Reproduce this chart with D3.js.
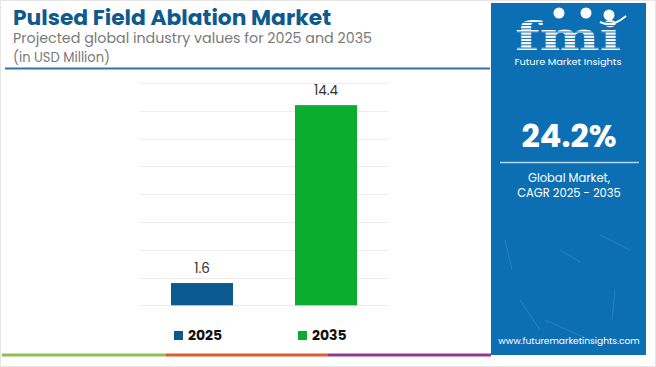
<!DOCTYPE html>
<html>
<head>
<meta charset="utf-8">
<script src="https://cdn.jsdelivr.net/npm/d3@7"></script>
<style>
  html, body { margin: 0; padding: 0; background: #fff; }
  svg { display: block; }
</style>
</head>
<body>
<svg id="chart" width="656" height="367"></svg>
<script>
const categories = ["2025", "2035"];
const values = [1.6, 14.4];
const valueLabels = ["1.6", "14.4"];
const gridTicks = [0, 2, 4, 6, 8, 10, 12, 14, 16];
const barColors = ["#0b5a8f", "#0aad30"];
const titleText = "Pulsed Field Ablation Market";
const subtitleLines = ["Projected global industry values for 2025 and 2035", "(in USD Million)"];
const cagrText = "24.2%";
const cagrLabel = ["Global Market,", "CAGR 2025 - 2035"];
const stripeColors = ["#8cc152", "#e05a2b", "#8e3a93"];

const svg = d3.select("#chart");
const font = "Poppins, 'Open Sans', Roboto, sans-serif";

// outer light border
svg.append("rect").attr("x", 0.5).attr("y", 0.5).attr("width", 655).attr("height", 366)
  .attr("fill", "none").attr("stroke", "#e6e6e6");

// header
svg.append("text").attr("x", 13).attr("y", 25)
  .attr("font-family", font).attr("font-weight", 700).attr("font-size", 20.5)
  .attr("fill", "#0e5a8c").attr("textLength", 318).attr("lengthAdjust", "spacingAndGlyphs")
  .text(titleText);
svg.append("text").attr("x", 13).attr("y", 42.5)
  .attr("font-family", font).attr("font-size", 14).attr("fill", "#7a7a7a")
  .attr("textLength", 359).attr("lengthAdjust", "spacingAndGlyphs")
  .text(subtitleLines[0]);
svg.append("text").attr("x", 13).attr("y", 62)
  .attr("font-family", font).attr("font-size", 14).attr("fill", "#7a7a7a")
  .attr("textLength", 97).attr("lengthAdjust", "spacingAndGlyphs")
  .text(subtitleLines[1]);
svg.append("line").attr("x1", 5).attr("x2", 490).attr("y1", 68.5).attr("y2", 68.5)
  .attr("stroke", "#2f74a8").attr("stroke-width", 2);

// scales
const x = d3.scaleBand().domain(categories).range([140, 388]).paddingInner(0.5).paddingOuter(0.25);
const y = d3.scaleLinear().domain([0, 16]).range([305.3, 82.9]);

// grid
svg.append("g").selectAll("line").data(gridTicks).join("line")
  .attr("x1", 140).attr("x2", 388)
  .attr("y1", d => Math.round(y(d)) + 0.5).attr("y2", d => Math.round(y(d)) + 0.5)
  .attr("stroke", "#ececec").attr("stroke-width", 1);

// bars
svg.append("g").selectAll("rect").data(categories).join("rect")
  .attr("x", d => x(d)).attr("width", x.bandwidth())
  .attr("y", (d, i) => y(values[i])).attr("height", (d, i) => y(0) - y(values[i]))
  .attr("fill", (d, i) => barColors[i]);

// value labels
svg.append("g").selectAll("text").data(categories).join("text")
  .attr("x", d => x(d) + x.bandwidth() / 2)
  .attr("y", (d, i) => y(values[i]) - 10)
  .attr("text-anchor", "middle")
  .attr("font-family", font).attr("font-size", 13.5).attr("fill", "#333")
  .text((d, i) => valueLabels[i]);

// legend
const leg = svg.append("g").selectAll("g").data(categories).join("g")
  .attr("transform", d => `translate(${x(d) + 3},331)`);
leg.append("rect").attr("width", 9).attr("height", 9).attr("fill", (d, i) => barColors[i]);
leg.append("text").attr("x", 14).attr("y", 9)
  .attr("font-family", font).attr("font-weight", 700).attr("font-size", 14).attr("fill", "#111")
  .text(d => d);

// bottom stripe
const stripeX = [2, 166, 328, 491];
svg.append("g").selectAll("rect").data(stripeColors).join("rect")
  .attr("x", (d, i) => stripeX[i]).attr("width", (d, i) => stripeX[i + 1] - stripeX[i])
  .attr("y", 353.5).attr("height", 3).attr("fill", d => d);

// right panel
const panel = svg.append("g");
panel.append("rect").attr("x", 491).attr("y", 3).attr("width", 155).attr("height", 352).attr("fill", "#0d6fb3");

// subtle decorative strokes
const deco = [[505,240,512,270],[560,250,580,262],[600,235,630,250],[520,300,540,330],[615,290,612,320],[545,320,590,340]];
panel.selectAll("line.deco").data(deco).join("line").attr("class", "deco")
  .attr("x1", d => d[0]).attr("y1", d => d[1]).attr("x2", d => d[2]).attr("y2", d => d[3])
  .attr("stroke", "#ffffff").attr("stroke-opacity", 0.12).attr("stroke-width", 1);

// logo
panel.append("text").attr("x", 568).attr("y", 50).attr("text-anchor", "middle")
  .attr("font-family", "'DejaVu Serif', serif").attr("font-weight", 700).attr("font-size", 40)
  .attr("fill", "#fff").attr("textLength", 106).attr("lengthAdjust", "spacingAndGlyphs")
  .text("fmi");
for (let yy = 16; yy < 52; yy += 3.2) {
  panel.append("line").attr("x1", 510).attr("x2", 628).attr("y1", yy).attr("y2", yy)
    .attr("stroke", "#0d6fb3").attr("stroke-width", 1);
}
[[559,13],[586,13],[609,15]].forEach(([cx, cy]) => {
  panel.append("circle").attr("cx", cx).attr("cy", cy).attr("r", 5.5).attr("fill", "#fff");
});
panel.append("path").attr("d", "M600,22 Q612,28 626,16").attr("fill", "none")
  .attr("stroke", "#fff").attr("stroke-width", 2);
panel.append("text").attr("x", 568).attr("y", 64.5).attr("text-anchor", "middle")
  .attr("font-family", font).attr("font-size", 9.5).attr("fill", "#fff")
  .attr("textLength", 107).attr("lengthAdjust", "spacingAndGlyphs")
  .text("Future Market Insights");

panel.append("text").attr("x", 569).attr("y", 147).attr("text-anchor", "middle")
  .attr("font-family", font).attr("font-weight", 700).attr("font-size", 31).attr("fill", "#fff")
  .attr("textLength", 95).attr("lengthAdjust", "spacingAndGlyphs")
  .text(cagrText);
panel.append("line").attr("x1", 500).attr("x2", 639).attr("y1", 162.5).attr("y2", 162.5)
  .attr("stroke", "#ffffff").attr("stroke-opacity", 0.7).attr("stroke-width", 1.5);
panel.selectAll("text.cl").data(cagrLabel).join("text").attr("class", "cl")
  .attr("x", 569).attr("y", (d, i) => 182 + i * 14.5).attr("text-anchor", "middle")
  .attr("font-family", font).attr("font-size", 11.5).attr("fill", "#fff")
  .text(d => d);
panel.append("text").attr("x", 569).attr("y", 344).attr("text-anchor", "middle")
  .attr("font-family", font).attr("font-size", 9.1).attr("fill", "#fff")
  .text("www.futuremarketinsights.com");
</script>
</body>
</html>
